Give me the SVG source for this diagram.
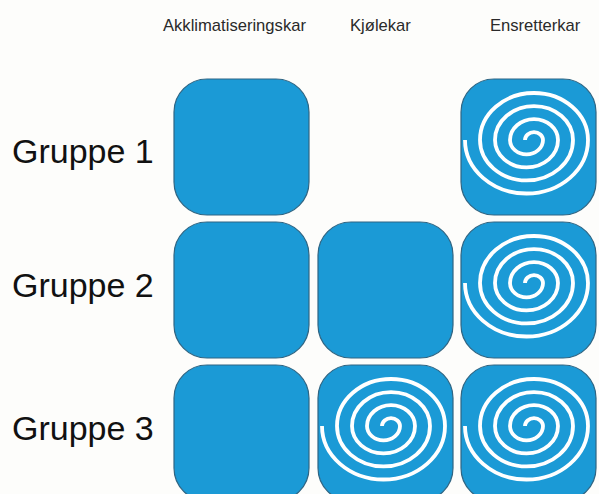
<svg xmlns="http://www.w3.org/2000/svg" xmlns:xlink="http://www.w3.org/1999/xlink" width="599" height="494" viewBox="0 0 599 494">
<style>
.hdr{font-family:"Liberation Sans",Arial,sans-serif;font-size:16.6px;fill:#2a2a2a}
.lbl{font-family:"Liberation Sans",Arial,sans-serif;font-size:34px;fill:#111}
.box{fill:#1b9ad6;stroke:#2f6583;stroke-width:1.2}
.sp{fill:none;stroke:#fff;stroke-width:3.8}
</style>
<defs>
<rect id="tank" class="box" x="0" y="0" width="135" height="136" rx="33" ry="33"/>
<path id="spiral" class="sp" d="M64,61 A9,7.83 0 0 1 82,61 A16.5,14.36 0 0 1 49,61 A24,20.88 0 0 1 97,61 A31.5,27.4 0 0 1 34,61 A39,33.93 0 0 1 112,61 A46.5,40.46 0 0 1 19,61 A54,46.98 0 0 1 127,61 A61.5,53.5 0 0 1 4,61"/>
</defs>
<rect width="599" height="494" fill="#fdfdfb"/>
<g id="headers">
<text class="hdr" x="163" y="31">Akklimatiseringskar</text>
<text class="hdr" x="350" y="31">Kjølekar</text>
<text class="hdr" x="490" y="31">Ensretterkar</text>
</g>
<g id="labels">
<text class="lbl" x="12" y="163">Gruppe 1</text>
<text class="lbl" x="12" y="297">Gruppe 2</text>
<text class="lbl" x="12" y="440">Gruppe 3</text>
</g>
<g id="g1-akkl"><use xlink:href="#tank" x="174" y="79"/></g>
<g id="g1-ensr"><use xlink:href="#tank" x="461" y="79"/><use xlink:href="#spiral" x="461" y="79"/></g>
<g id="g2-akkl"><use xlink:href="#tank" x="174" y="222"/></g>
<g id="g2-kjol"><use xlink:href="#tank" x="318" y="222"/></g>
<g id="g2-ensr"><use xlink:href="#tank" x="461" y="222"/><use xlink:href="#spiral" x="461" y="222"/></g>
<g id="g3-akkl"><use xlink:href="#tank" x="174" y="365"/></g>
<g id="g3-kjol"><use xlink:href="#tank" x="318" y="365"/><use xlink:href="#spiral" x="318" y="365"/></g>
<g id="g3-ensr"><use xlink:href="#tank" x="461" y="365"/><use xlink:href="#spiral" x="461" y="365"/></g>
</svg>
